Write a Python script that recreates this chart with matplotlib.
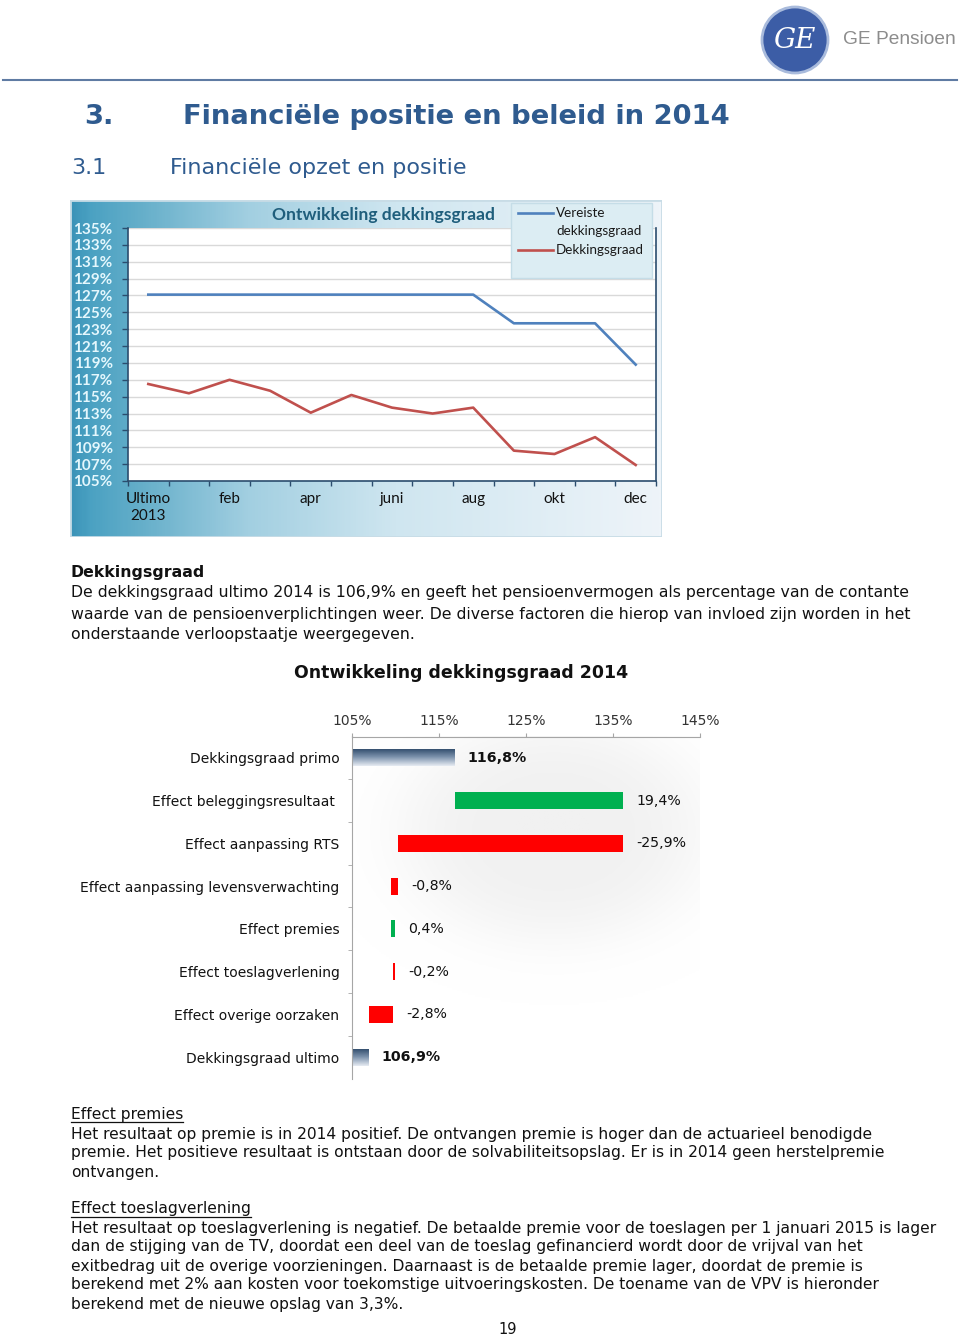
import numpy as np
import matplotlib.pyplot as plt
from matplotlib.colors import LinearSegmentedColormap
from matplotlib.patches import Circle, Rectangle

W, H = 960, 1336

# --- chart 1: ontwikkeling dekkingsgraad (per maand) ---
months = ["Ultimo\n2013", "jan", "feb", "mrt", "apr", "mei", "juni",
          "juli", "aug", "sep", "okt", "nov", "dec"]
vereiste = [127.1, 127.1, 127.1, 127.1, 127.1, 127.1, 127.1,
            127.1, 127.1, 123.7, 123.7, 123.7, 118.8]
dekking = [116.5, 115.4, 117.0, 115.7, 113.1, 115.2, 113.7,
           113.0, 113.7, 108.6, 108.2, 110.2, 106.9]
y_ticks_1 = list(range(105, 136, 2))

# --- chart 2: verloop dekkingsgraad 2014 ---
wf_labels = ["Dekkingsgraad primo", "Effect beleggingsresultaat ",
             "Effect aanpassing RTS", "Effect aanpassing levensverwachting",
             "Effect premies", "Effect toeslagverlening",
             "Effect overige oorzaken", "Dekkingsgraad ultimo"]
primo = 116.8
effects = [19.4, -25.9, -0.8, 0.4, -0.2, -2.8]
ultimo = 106.9
x_ticks_2 = [105, 115, 125, 135, 145]

# --- page text ---
para_1 = [
    "De dekkingsgraad ultimo 2014 is 106,9% en geeft het pensioenvermogen als percentage van de contante",
    "waarde van de pensioenverplichtingen weer. De diverse factoren die hierop van invloed zijn worden in het",
    "onderstaande verloopstaatje weergegeven.",
]
para_premies = [
    "Het resultaat op premie is in 2014 positief. De ontvangen premie is hoger dan de actuarieel benodigde",
    "premie. Het positieve resultaat is ontstaan door de solvabiliteitsopslag. Er is in 2014 geen herstelpremie",
    "ontvangen.",
]
para_toeslag = [
    "Het resultaat op toeslagverlening is negatief. De betaalde premie voor de toeslagen per 1 januari 2015 is lager",
    "dan de stijging van de TV, doordat een deel van de toeslag gefinancierd wordt door de vrijval van het",
    "exitbedrag uit de overige voorzieningen. Daarnaast is de betaalde premie lager, doordat de premie is",
    "berekend met 2% aan kosten voor toekomstige uitvoeringskosten. De toename van de VPV is hieronder",
    "berekend met de nieuwe opslag van 3,3%.",
]

BLUE = "#4f81bd"
RED_LINE = "#c0504d"
HEAD = "#2f5b8f"
GREEN = "#00b050"
RED = "#ff0000"


def box(l, t, r, b):
    return [l / W, 1 - b / H, (r - l) / W, (b - t) / H]


fig = plt.figure(figsize=(W / 100, H / 100), dpi=100)

# chart 1 background panel with gradient
bg = fig.add_axes(box(70, 200, 662, 537))
bg_cmap = LinearSegmentedColormap.from_list(
    "panel", [(0, "#3b93b8"), (0.03, "#4aa1c2"), (0.12, "#66afca"),
              (0.3, "#a2cfe1"), (0.55, "#cfe6f0"), (1, "#eef4f9")])
bg.imshow(np.linspace(0, 1, 300)[None, :], aspect="auto", cmap=bg_cmap,
          extent=[0, 1, 0, 1])
bg.add_patch(Rectangle((0, 0), 1, 1, fill=False, ec="#c8dce6", lw=2,
                       transform=bg.transAxes))
bg.set_axis_off()

ax1 = fig.add_axes(box(128, 228, 656, 481))
ax1.set_facecolor("white")
x = np.arange(len(months))
ax1.plot(x, vereiste, color=BLUE, lw=1.9, zorder=3)
ax1.plot(x, dekking, color=RED_LINE, lw=1.9, zorder=3)
ax1.set_xlim(-0.5, len(months) - 0.5)
ax1.set_ylim(105, 135)
ax1.set_yticks(y_ticks_1)
ax1.set_yticklabels([f"{v}%" for v in y_ticks_1], color="#e4f7fd",
                    fontweight="bold", fontsize=11, family="Lato")
ax1.tick_params(axis="y", length=4, width=1, color="#2b4d6e", pad=7)
ax1.set_xticks(x[::2])
ax1.set_xticklabels(months[::2], fontsize=11, family="Lato", color="#111111",
                    linespacing=1.25)
ax1.set_xticks(np.arange(-0.5, len(months), 1), minor=True)
ax1.tick_params(axis="x", which="major", length=0, pad=8)
ax1.tick_params(axis="x", which="minor", length=3.5, width=1, color="#2b4d6e")
ax1.grid(axis="y", color="#d9d9d9", lw=1)
ax1.set_axisbelow(True)
for side in ["left", "bottom", "right"]:
    ax1.spines[side].set_color("#2b4d6e")
    ax1.spines[side].set_linewidth(1.2)
ax1.spines["top"].set_visible(False)

# chart 2: waterfall
ax2 = fig.add_axes(box(352, 736.5, 700, 1078.5))
starts = [x_ticks_2[0]]
ends = [primo]
level = primo
for e in effects:
    starts.append(level)
    level = level + e
    ends.append(level)
starts.append(x_ticks_2[0])
ends.append(ultimo)
texts = [f"{primo:.1f}%"] + [f"{e:.1f}%" for e in effects] + [f"{ultimo:.1f}%"]
texts = [t.replace(".", ",") for t in texts]

# soft shadow behind the bars (top right of the plot)
gx, gy = np.meshgrid(np.linspace(0, 1, 200), np.linspace(0, 1, 200))
glow = np.exp(-(((gx - 0.58) / 0.45) ** 2 + ((gy - 0.28) / 0.33) ** 2) ** 2)
shade = LinearSegmentedColormap.from_list("shade", ["#ffffff", "#f1f1f1"])
ax2.imshow(glow, cmap=shade, aspect="auto", extent=[0, 1, 0, 1],
           transform=ax2.transAxes, zorder=0)

grad = LinearSegmentedColormap.from_list("tot", ["#2c4868", "#7d93ad", "#e6ebf2"])
bar_h = 0.4
for i, (s, e) in enumerate(zip(starts, ends)):
    lo, hi = min(s, e), max(s, e)
    total = i in (0, len(wf_labels) - 1)
    if total:
        bar = ax2.barh(i, hi - lo, left=lo, height=bar_h, color="none",
                       edgecolor="none")[0]
        im = ax2.imshow(np.linspace(0, 1, 64)[:, None], cmap=grad,
                        aspect="auto", extent=[lo, hi, i + bar_h / 2, i - bar_h / 2],
                        zorder=2)
        im.set_clip_path(bar)
    else:
        ax2.barh(i, hi - lo, left=lo, height=bar_h,
                 color=GREEN if e > s else RED, zorder=2)
    ax2.annotate(texts[i], xy=(hi, i), xytext=(9.5, 0), textcoords="offset points",
                 va="center", ha="left", fontsize=10.2,
                 fontweight="bold" if total else "normal", color="#111111")
ax2.set_xlim(x_ticks_2[0], x_ticks_2[-1])
ax2.set_ylim(len(wf_labels) - 0.5, -0.5)
ax2.xaxis.tick_top()
ax2.set_xticks(x_ticks_2)
ax2.set_xticklabels([f"{v}%" for v in x_ticks_2], fontsize=10, color="#333333")
ax2.tick_params(axis="x", length=3, color="#a6a6a6", pad=3)
ax2.set_yticks(range(len(wf_labels)))
ax2.set_yticklabels(wf_labels, fontsize=10, color="#111111")
ax2.set_yticks(np.arange(0.5, len(wf_labels) - 0.5, 1), minor=True)
ax2.tick_params(axis="y", which="major", length=0, pad=9)
ax2.tick_params(axis="y", which="minor", length=3, color="#a6a6a6")
for side in ["right", "bottom"]:
    ax2.spines[side].set_visible(False)
for side in ["left", "top"]:
    ax2.spines[side].set_color("#a6a6a6")

# page overlay in pixel coordinates
page = fig.add_axes([0, 0, 1, 1], zorder=10)
page.set_xlim(0, W)
page.set_ylim(H, 0)
page.set_axis_off()
page.patch.set_alpha(0)

# header
page.add_patch(Circle((795, 40), 33, fc="#3c5da6", ec="#a9bbdc", lw=2))
page.text(795, 41, "GE", ha="center", va="center", color="white", fontsize=20,
          family="DejaVu Serif", style="italic")
page.text(843, 40, "GE Pensioen", ha="left", va="center", color="#8c8c8c",
          fontsize=13.8, family="Liberation Sans")
page.plot([3, 957], [80, 80], color="#5f7ba3", lw=1.5)

page.text(84, 117, "3.", ha="left", va="center", color=HEAD, fontsize=19.7,
          fontweight="bold")
page.text(183, 117, "Financiële positie en beleid in 2014", ha="left", va="center",
          color=HEAD, fontsize=19.7, fontweight="bold")
page.text(71, 168, "3.1", ha="left", va="center", color=HEAD, fontsize=16)
page.text(170, 168, "Financiële opzet en positie", ha="left", va="center",
          color=HEAD, fontsize=16)

# chart 1 title and legend
page.text(383, 215, "Ontwikkeling dekkingsgraad", ha="center", va="center",
          color="#1f5e7c", fontsize=12.6, fontweight="bold", family="Lato")
page.add_patch(Rectangle((511, 203), 141, 75, fc="#dcedf3", ec="#c5dde7", lw=1))
page.plot([518, 553], [213, 213], color=BLUE, lw=1.9)
page.plot([518, 553], [250, 250], color=RED_LINE, lw=1.9)
for yy, s in [(213, "Vereiste"), (231, "dekkingsgraad"), (250, "Dekkingsgraad")]:
    page.text(556, yy, s, ha="left", va="center", fontsize=9.7, family="Lato",
              color="#1a1a1a")

# body text
BODY = dict(ha="left", va="center", color="#111111")
page.text(71, 572, "Dekkingsgraad", fontsize=11.3, fontweight="bold", **BODY)
for k, line in enumerate(para_1):
    page.text(71, 593 + 21 * k, line, fontsize=11.3, **BODY)
page.text(461, 673, "Ontwikkeling dekkingsgraad 2014", ha="center", va="center",
          fontsize=12.5, fontweight="bold", color="#111111")

underlined = []
underlined.append(page.text(71, 1114, "Effect premies", fontsize=11.2, **BODY))
for k, line in enumerate(para_premies):
    page.text(71, 1134 + 19 * k, line, fontsize=11.2, **BODY)
underlined.append(page.text(71, 1209, "Effect toeslagverlening", fontsize=11.2, **BODY))
for k, line in enumerate(para_toeslag):
    page.text(71, 1228 + 19 * k, line, fontsize=11.2, **BODY)
page.text(508, 1330, "19", ha="center", va="center", fontsize=10.5, color="#111111")

fig.canvas.draw()
renderer = fig.canvas.get_renderer()
inv = page.transData.inverted()
for t in underlined:
    bb = t.get_window_extent(renderer)
    (x0, _), (x1, _) = inv.transform([[bb.x0, bb.y0], [bb.x1, bb.y0]])
    yy = t.get_position()[1] + 8
    page.plot([x0, x1], [yy, yy], color="#111111", lw=0.9)

fig.savefig("out.png", dpi=100)
